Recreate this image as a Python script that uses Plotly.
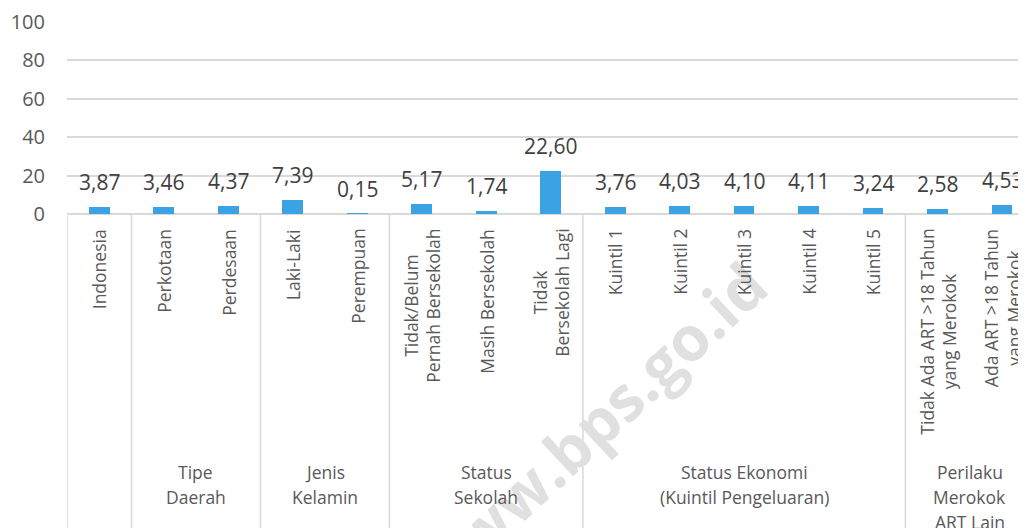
import plotly.graph_objects as go

# ---------------- data ----------------
categories = [
    "Indonesia", "Perkotaan", "Perdesaan", "Laki-Laki", "Perempuan",
    "Tidak/Belum<br>Pernah Bersekolah", "Masih Bersekolah", "Tidak<br>Bersekolah Lagi",
    "Kuintil 1", "Kuintil 2", "Kuintil 3", "Kuintil 4", "Kuintil 5",
    "Tidak Ada ART >18 Tahun<br>yang Merokok", "Ada ART >18 Tahun<br>yang Merokok",
]
values = [3.87, 3.46, 4.37, 7.39, 0.15, 5.17, 1.74, 22.60,
          3.76, 4.03, 4.10, 4.11, 3.24, 2.58, 4.53]
groups = ["", "Tipe<br>Daerah", "Jenis<br>Kelamin", "Status<br>Sekolah",
          "Status Ekonomi<br>(Kuintil Pengeluaran)", "Perilaku<br>Merokok<br>ART Lain"]
group_sizes = [1, 2, 2, 3, 5, 2]
y_ticks = [0, 20, 40, 60, 80, 100]
watermark = "www.bps.go.id"

# ---------------- style ----------------
FONT = "Open Sans"
BAR = "#3BA3E4"
GRID = "#D9D9D9"
LABEL = "#595959"
VALUE = "#404040"
LINE_STEP = 25  # px between group label lines


def fmt(v):
    return f"{v:.2f}".replace(".", ",")


x = list(range(len(categories)))

fig = go.Figure()
fig.add_trace(go.Bar(x=x, y=values, width=0.32, marker=dict(color=BAR, line=dict(width=0)),
                     hoverinfo="skip", showlegend=False))

annotations = []
# watermark (drawn first, under the labels)
annotations.append(dict(text=watermark, xref="paper", yref="paper", x=0.545, y=-1.115,
                        xanchor="center", yanchor="middle",
                        showarrow=False, textangle=-43,
                        font=dict(family=FONT, size=62, color="#E0E0E0", weight=700)))

# value labels
for xi, v in zip(x, values):
    annotations.append(dict(x=xi, y=v, text=fmt(v), showarrow=False, yanchor="middle", yshift=25,
                            font=dict(family=FONT, size=21, color=VALUE)))

# category labels (rotated)
for xi, c in zip(x, categories):
    annotations.append(dict(x=xi, y=0, yref="paper", text=c, showarrow=False,
                            textangle=-90, xanchor="center", yanchor="top", yshift=-13,
                            align="center", font=dict(family=FONT, size=17.5, color=LABEL)))

# group labels and dividers
shapes = []
start = 0
bounds = [-0.5]
for g, n in zip(groups, group_sizes):
    center = start + (n - 1) / 2
    if g:
        for i, line in enumerate(g.split("<br>")):
            annotations.append(dict(x=center, y=0, yref="paper", text=line, showarrow=False,
                                    xanchor="center", yanchor="middle",
                                    yshift=-(258 + LINE_STEP * i),
                                    font=dict(family=FONT, size=17.5, color=LABEL)))
    start += n
    bounds.append(start - 0.5)

for b in bounds:
    shapes.append(dict(type="line", xref="x", yref="paper", x0=b, x1=b, y0=0, y1=-2,
                       line=dict(color=GRID, width=1.5), layer="below"))

# page body has an 8px margin, so the figure is 8px smaller than the window
fig.update_layout(
    width=1018, height=520,
    margin=dict(l=59, r=0, t=14, b=314, autoexpand=False),
    paper_bgcolor="white", plot_bgcolor="white",
    bargap=0,
    annotations=annotations,
    shapes=shapes,
    xaxis=dict(range=[-0.5, 14.37], showticklabels=False, showgrid=False, zeroline=False,
               ticks="", fixedrange=True, automargin=False),
    yaxis=dict(range=[0, 100], tickvals=y_ticks, ticktext=[str(t) for t in y_ticks],
               showgrid=True, gridcolor=GRID, gridwidth=1.5,
               zeroline=True, zerolinecolor=GRID, zerolinewidth=1.5,
               showline=False, ticks="", ticklabelstandoff=21, automargin=False,
               tickfont=dict(family=FONT, size=20, color=LABEL), fixedrange=True),
)

fig.write_html("out.html")
